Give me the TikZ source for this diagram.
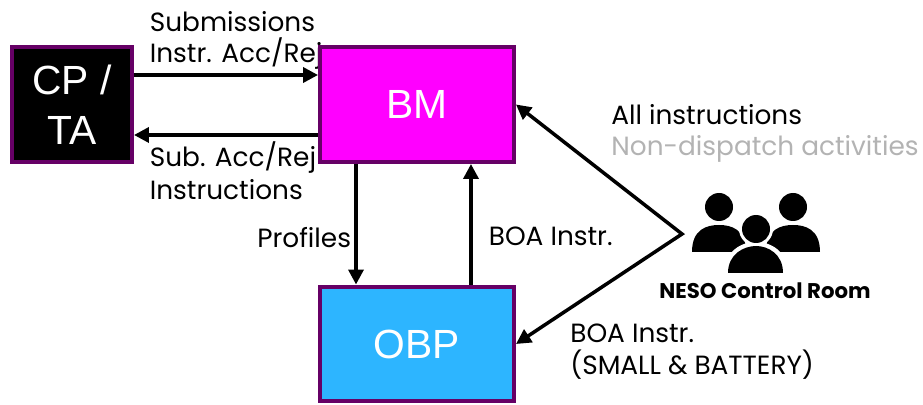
\documentclass[tikz,border=0pt]{standalone}
\usepackage{fontspec}
\setmainfont{Poppins}
\newfontfamily\boxfont{Liberation Sans}
\usetikzlibrary{arrows.meta}
\definecolor{edgepurple}{HTML}{660066}
\definecolor{bmpink}{HTML}{FF00FF}
\definecolor{obpblue}{HTML}{2DB5FF}
\definecolor{notegray}{HTML}{B3B3B3}
\tikzset{>={Triangle[length=8.5pt,width=8.5pt]}}
\tikzset{block/.style={draw=edgepurple,line width=.08cm,minimum height=2.3cm,align=center,font=\boxfont\fontsize{23.2}{28.5}\selectfont},
  lbl/.style={anchor=west,inner sep=0pt,font=\fontsize{15}{17}\selectfont},
  link/.style={line width=2pt}}
\newcommand*{\person}[3]{%
  \fill (#1,#2) circle (14);
  \fill[#3] (#1-27,#2+45) .. controls (#1-27,#2+22) and (#1-12,#2+18) .. (#1,#2+18)
    .. controls (#1+12,#2+18) and (#1+27,#2+22) .. (#1+27,#2+45) -- cycle;}

\begin{document}
\begin{tikzpicture}[x=.02cm,y=-.02cm]
\useasboundingbox (0,0) rectangle (923,405);
\node[lbl] (subm) at (149.5,22) {Submissions};
\node[lbl] (iacc) at (149.5,54) {Instr. Acc/Rej};
\node[block,fill=black,text=white,minimum width=2.4cm] (cpta) at (72,104.5) {CP /\\TA};
\node[block,fill=bmpink,text=white,minimum width=3.88cm] (bm) at (417,104.5) {BM};
\node[block,fill=obpblue,text=white,minimum width=3.88cm] (obp) at (417,344) {OBP};
\draw[->,link] ([yshift=.59cm]cpta.east) -- ([yshift=.59cm]bm.west);
\draw[<-,link] ([yshift=-.61cm]cpta.east) -- ([yshift=-.61cm]bm.west);
\draw[->,link] ([xshift=-1.22cm]bm.south) -- ([xshift=-1.22cm]obp.north);
\draw[<-,link] ([xshift=1.08cm]bm.south) -- ([xshift=1.08cm]obp.north);
\coordinate (hub) at (682,234);
\draw[<->,link] (bm.east) -- (hub) -- (obp.east);
\node[lbl] (sacc) at (149.5,158) {Sub. Acc/Rej};
\node[lbl] (inst) at (149.5,190) {Instructions};
\node[lbl] (prof) at (257,238) {Profiles};
\node[lbl] (boa) at (488.5,236) {BOA Instr.};
\node[lbl] (all) at (611,115) {All instructions};
\node[lbl,text=notegray] (nond) at (611,149) {Non-dispatch activities};
\node[lbl] (boas) at (570,333) {BOA Instr.};
\node[lbl] (smal) at (570,365) {(SMALL \& BATTERY)};
% people icon
\person{719}{207}{black}
\person{793}{207}{black}
\fill[white] (756,229) circle (17);
\fill[white] (724,276) .. controls (724,250) and (742,242) .. (756,242)
  .. controls (770,242) and (788,250) .. (788,276) -- cycle;
\fill (756,229) circle (14);
\fill (728,273) .. controls (728,254) and (744,246) .. (756,246)
  .. controls (768,246) and (783,254) .. (783,273) -- cycle;
\node[lbl,anchor=center,font=\bfseries\fontsize{12.1}{14}\selectfont] (neso) at (765,291) {NESO Control Room};
\end{tikzpicture}
\end{document}
